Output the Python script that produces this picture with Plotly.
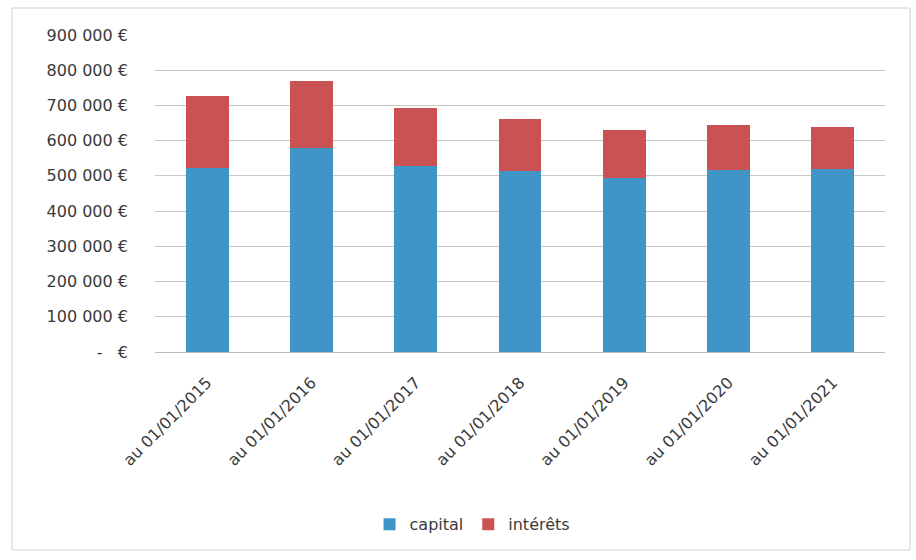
import plotly.graph_objects as go

categories = ["au 01/01/2015", "au 01/01/2016", "au 01/01/2017", "au 01/01/2018",
              "au 01/01/2019", "au 01/01/2020", "au 01/01/2021"]
capital = [523000, 580000, 527000, 515000, 493000, 518000, 520000]
totals = [728000, 768000, 694000, 662000, 630000, 645000, 640000]
interets = [t - c for t, c in zip(totals, capital)]

tick_vals = [0, 100000, 200000, 300000, 400000, 500000, 600000, 700000, 800000, 900000]
tick_text = ["-   €", "100 000 €", "200 000 €", "300 000 €", "400 000 €", "500 000 €",
             "600 000 €", "700 000 €", "800 000 €", "900 000 €"]

FONT = "'DejaVu Sans', 'Open Sans', sans-serif"
TXT = "#3a3a3a"

fig = go.Figure()
fig.add_trace(go.Bar(x=categories, y=capital, name="capital", marker_color="#3f95c6",
                     marker_line_width=0))
fig.add_trace(go.Bar(x=categories, y=interets, name="intérêts", marker_color="#cb5253",
                     marker_line_width=0))

fig.update_layout(
    barmode="stack",
    bargap=0.59,
    width=916, height=560,
    margin=dict(l=155, r=31, t=35, b=208),
    paper_bgcolor="white", plot_bgcolor="white",
    font=dict(family=FONT, size=16, color=TXT),
    legend=dict(orientation="h", x=0.435, xanchor="center", y=-0.49, yanchor="top",
                font=dict(size=16, color=TXT), itemwidth=30, traceorder="normal"),
    xaxis=dict(tickangle=-45, tickfont=dict(size=16, color=TXT), showline=True,
               linecolor="#bdbdbd", linewidth=1, ticks="", ticklabelstandoff=14),
    yaxis=dict(range=[0, 900000], tickvals=tick_vals, ticktext=tick_text,
               showgrid=True, gridcolor="#c8c8c8", gridwidth=1, zeroline=False,
               tickfont=dict(size=16, color=TXT), ticklabelstandoff=26),
    shapes=[dict(type="rect", xref="paper", yref="paper",
                 x0=(12 - 155) / 730, x1=(910 - 155) / 730,
                 y0=-(550 - 352) / 317, y1=1 + (35 - 8) / 317,
                 line=dict(color="#d0d0d0", width=1), layer="below")],
)

fig.write_html("out.html")
